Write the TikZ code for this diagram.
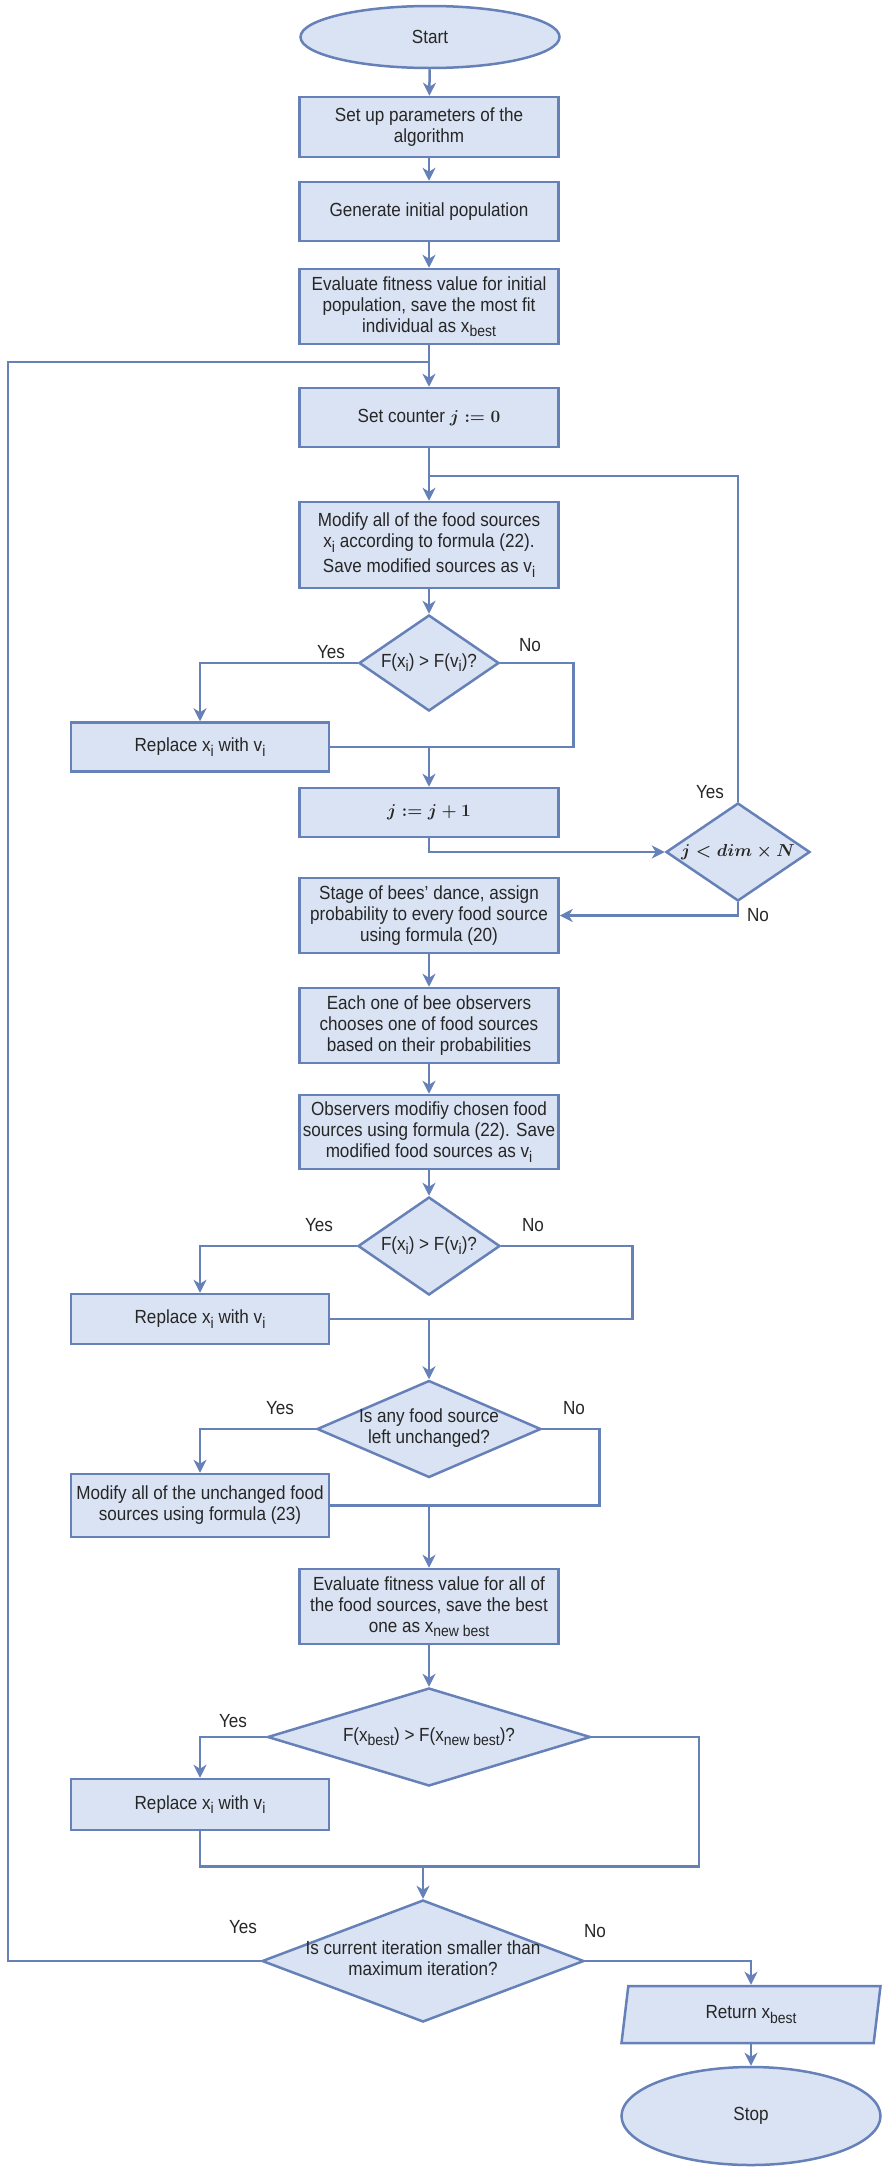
\documentclass[tikz,border=0pt]{standalone}
\usepackage{fontspec}
\setmainfont{Liberation Sans}[FakeStretch=0.9]
\usetikzlibrary{shapes.geometric,arrows.meta}

\definecolor{boxfill}{HTML}{DAE3F3}
\definecolor{boxline}{HTML}{6680B8}

\tikzset{
	process/.style={rectangle, draw=boxline, fill=boxfill, line width=2.5pt, minimum width=259pt, inner sep=2pt, align=center, text=black!85},
	decision/.style={diamond, draw=boxline, fill=boxfill, line width=2.5pt, inner sep=0pt, text=black!85},
	terminal/.style={ellipse, draw=boxline, fill=boxfill, line width=2.5pt, inner sep=0pt, text=black!85},
	io/.style={trapezium, trapezium left angle=69, trapezium right angle=111, trapezium stretches body, draw=boxline, fill=boxfill, line width=2.5pt, inner sep=0pt, text=black!85},
	flow/.style={draw=boxline, line width=2.5pt},
	arr/.style={flow, -{Stealth[length=13pt,width=13pt,inset=4pt]}},
	lbl/.style={text=black!85}
}
\newcommand{\zw}[1]{\makebox[0pt]{\begin{tabular}{@{}c@{}}#1\end{tabular}}}
\newcommand{\sbs}[1]{\raisebox{-0.45ex}{\fontsize{15.5}{15.5}\selectfont #1}}
\newcommand{\bmath}[1]{{\boldmath$#1$}}

\begin{document}
\begin{tikzpicture}[x=1pt, y=-1pt, font=\fontsize{19}{21}\selectfont]
		\useasboundingbox (0,0) rectangle (885,2174);
		
		% main column
		\node[terminal, minimum width=259pt, minimum height=62pt] (start) at (430,37) {Start};
		\node[process, minimum height=60pt] (setup) at (429,127) {Set up parameters of the\\algorithm};
		\node[process, minimum height=59pt] (init) at (429,211.5) {Generate initial population};
		\node[process, minimum height=75pt] (evalinit) at (429,306.5) {Evaluate fitness value for initial\\population, save the most fit\\individual as x\sbs{best}};
		\node[process, minimum height=59pt] (setj) at (429,417.5) {Set counter \bmath{j := 0}};
		\node[process, minimum height=86pt] (modify) at (429,545) {Modify all of the food sources\\x\sbs{i} according to formula (22).\\[4pt]Save modified sources as v\sbs{i}};
		\node[decision, minimum width=140pt, minimum height=96pt] (emp) at (429,663) {\zw{F(x\sbs{i}) > F(v\sbs{i})?}};
		\node[process, minimum width=258pt, minimum height=49pt] (repemp) at (200,747) {Replace x\sbs{i} with v\sbs{i}};
		\node[process, minimum height=49pt] (inc) at (429,812.5) {\bmath{j := j + 1}};
		\node[decision, minimum width=144pt, minimum height=98pt] (jloop) at (738,852) {\zw{\bmath{j < dim \times N}}};
		\node[process, minimum height=75pt] (dance) at (429,915.5) {Stage of bees' dance, assign\\probability to every food source\\using formula (20)};
		\node[process, minimum height=75pt] (choose) at (429,1025.5) {Each one of bee observers\\chooses one of food sources\\based on their probabilities};
		\node[process, minimum height=74pt] (onlook) at (429,1132) {Observers modifiy chosen food\\sources using formula (22). Save\\modified food sources as v\sbs{i}};
		\node[decision, minimum width=142pt, minimum height=98pt] (onl) at (429,1246) {\zw{F(x\sbs{i}) > F(v\sbs{i})?}};
		\node[process, minimum width=258pt, minimum height=50pt] (repon) at (200,1319) {Replace x\sbs{i} with v\sbs{i}};
		\node[decision, minimum width=224pt, minimum height=97pt] (scout) at (429,1429) {\zw{Is any food source\\left unchanged?}};
		\node[process, minimum width=258pt, minimum height=63pt] (modscout) at (200,1505.5) {Modify all of the unchanged food\\sources using formula (23)};
		\node[process, minimum height=75pt] (evalnew) at (429,1606.5) {Evaluate fitness value for all of\\the food sources, save the best\\one as x\sbs{new best}};
		\node[decision, minimum width=323pt, minimum height=98pt] (cmp) at (429,1737) {\zw{F(x\sbs{best}) > F(x\sbs{new best})?}};
		\node[process, minimum width=258pt, minimum height=51pt] (repbest) at (200,1804.5) {Replace x\sbs{i} with v\sbs{i}};
		\node[decision, minimum width=322pt, minimum height=122pt] (iter) at (423,1961) {\zw{Is current iteration smaller than\\maximum iteration?}};
		\node[io, minimum width=259pt, minimum height=57pt] (ret) at (751,2014.5) {Return x\sbs{best}};
		\node[terminal, minimum width=259pt, minimum height=98pt] (stop) at (751,2116) {Stop};
		
		% junctions
		\coordinate (back) at (429,362);
		\coordinate (rail) at (8,362);
		\coordinate (loopj) at (429,476);
		\coordinate (merge) at (423,1865);
		
		% straight arrows
		\draw[arr] (start) -- (setup);
		\draw[arr] (setup) -- (init);
		\draw[arr] (init) -- (evalinit);
		\draw[arr] (evalinit) -- (setj);
		\draw[arr] (setj) -- (modify);
		\draw[arr] (modify) -- (emp);
		\draw[arr] (dance) -- (choose);
		\draw[arr] (choose) -- (onlook);
		\draw[arr] (onlook) -- (onl);
		\draw[arr] (evalnew) -- (cmp);
		
		% employed bees
		\draw[arr] (emp.west) -| (repemp.north);
		\draw[flow] (emp.east) -- ++(73,0) |- (repemp.east);
		\draw[arr] (repemp.east -| inc) -- (inc);
		\draw[arr] (inc.south) |- (jloop.west);
		\draw[flow] (jloop.north) |- (loopj);
		\draw[arr] (jloop.south) |- (dance.east);
		
		% onlooker bees
		\draw[arr] (onl.west) -| (repon.north);
		\draw[flow] (onl.east) -- ++(131,0) |- (repon.east);
		\draw[arr] (repon.east -| scout) -- (scout);
		
		% scout bees
		\draw[arr] (scout.west) -| (modscout.north);
		\draw[flow] (scout.east) -- ++(57,0) |- (modscout.east);
		\draw[arr] (modscout.east -| evalnew) -- (evalnew);
		
		% best solution
		\draw[arr] (cmp.west) -| (repbest.north);
		\draw[flow] (repbest.south) -- ++(0,35) -| ([xshift=107pt]cmp.east) -- (cmp.east);
		\draw[arr] (merge) -- (iter);
		\draw[flow] (iter.west) -| (rail) -- (back);
		\draw[arr] (iter.east) -| (ret.center |- ret.north);
		\draw[arr] (ret.center |- ret.south) -- (stop);
		
		% branch labels
		\foreach \n/\x/\y/\t in {ya/331/652/Yes, na/530/645/No, yb/710/792/Yes, nb/758/915/No, yc/319/1225/Yes, nc/533/1225/No, yd/280/1408/Yes, nd/574/1408/No, ye/233/1721/Yes, yf/243/1927/Yes, nf/595/1931/No}{
			\node[lbl] (\n) at (\x,\y) {\t};
		}
\end{tikzpicture}
\end{document}
